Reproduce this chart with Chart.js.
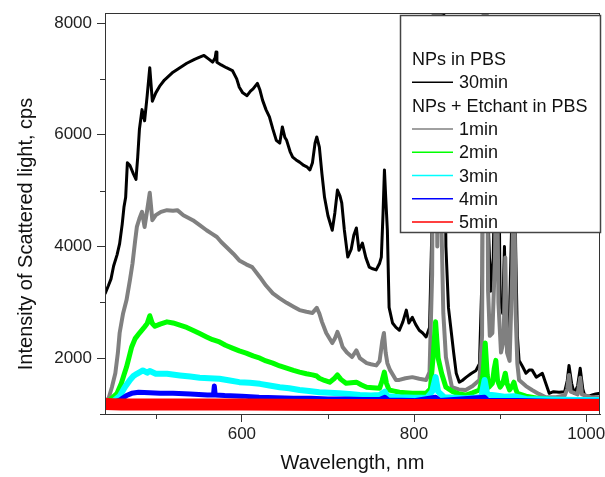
<!DOCTYPE html>
<html>
<head>
<meta charset="utf-8">
<script src="https://cdn.jsdelivr.net/npm/chart.js@4.4.1/dist/chart.umd.min.js"></script>
<style>
  html, body { margin: 0; padding: 0; background: #fff; }
  canvas { display: block; }
</style>
</head>
<body>
<canvas id="myChart" width="605" height="477"></canvas>
<script>
// values (wavelength nm / cps)
const wl30 = [441,445,448,451,455,458,461,463,465,467,470,474,477,479,481,484,487,490,493,496,500,505,510,515,520,528,536,545,551,556,562,566,569,570,571,576,582,589,594,597,601,606,610,613,618,621,624,628,632,636,640,644,647,650,652,656,659,663,667,672,676,679,682,685,687,690,693,696,700,705,708,711,714,716,719,723,727,730,733,736,740,744,748,752,756,760,762,764,765.6,767,769,771,775,779,783,787,791,794,798,802,806,810,814,818,821,823,826,828,831,834,837,840,843,846,849,852.6,856,860.7,866,872,876,879,881,884,886,889,892,895,898,900,903,905,907,910,914,916,918,920,922,926,930,934,937,942,946,949,953,957,962,968.5,975,978,980,983,986,990,993,996,998,1003,1007,1011,1016];
const cps30 = [3150,3300,3420,3650,3850,4050,4400,4700,4880,5500,5450,5300,5200,5600,6100,6450,6250,6700,7200,6600,6750,6880,6980,7050,7120,7200,7280,7350,7390,7420,7350,7300,7380,7480,7300,7250,7200,7150,7000,6850,6750,6700,6780,6820,6920,6800,6620,6450,6320,6100,5900,5850,6140,5950,5900,5700,5600,5550,5510,5450,5420,5370,5500,5850,5960,5780,5300,4880,4550,4290,4600,5010,4900,4780,4300,3810,3950,4200,4330,3930,4060,3800,3630,3600,3580,3700,3810,4600,5370,4900,4290,2910,2630,2550,2500,2650,2860,2630,2730,2600,2500,2450,2380,2550,4500,9000,9000,5500,9000,9000,4000,2900,2500,2100,1730,1570,1600,1660,1720,1780,1900,3500,9000,9000,4500,3200,3800,6500,6500,3000,2800,4000,2600,2200,4800,6500,4000,2400,1960,1850,1730,1790,1790,1660,1700,1730,1550,1370,1400,1390,1400,1600,1870,1550,1370,1500,1820,1450,1340,1320,1340,1360,1370];

const wl1 = [441,445,449,453,456,458,462,466,470,473,476,478,481,484,487,490,493,496,500,506,513,520,525,532,543,551,559,565,571,576,582,590,597,605,612,621,628,636,644,652,660,667,675,682,687,690,693,698,705,708,711,714,717,722,728,733,737,745,750,756,760,763,765,767,769,772,779,783,790,798,806,814,818,821,823,825,827,829,831,834,837,841,844,852,860,868,876,879,881,884,886,888,891,894,896,898,901,904,906,908,911,914,916,918,920,922,930,937,945,953,965,975,978,980,982,990,993,995,1005,1016];
const cps1 = [1250,1270,1480,1730,2100,2450,2800,3040,3400,3700,4100,4350,4500,4620,4350,4650,4960,4470,4560,4620,4650,4640,4650,4560,4470,4380,4290,4230,4170,4080,3990,3870,3750,3680,3630,3450,3300,3160,3070,2990,2920,2860,2830,2810,2900,2800,2650,2450,2270,2350,2470,2350,2200,2100,2020,2140,2000,1910,1890,1870,1950,2300,2450,2100,1910,1790,1610,1610,1640,1660,1630,1610,1750,3500,9000,9000,4000,9000,5000,2800,2020,1700,1480,1440,1430,1500,1610,2400,9000,9000,3200,2400,2450,3800,6000,3000,2100,2300,3800,2100,1950,3500,5500,2800,1900,1610,1500,1430,1360,1300,1300,1330,1450,1700,1400,1350,1650,1350,1300,1300];

const wl2 = [441,445,450,455,460,463,466,469,472,476,481,487,490,493,496,499,505,513,520,528,536,543,551,559,566,574,581,589,597,605,613,621,628,636,644,652,660,667,675,682,687,690,696,702,707,711,715,721,727,733,739,745,752,760,763,765.5,768,771,777,783,790,798,806,814,819,822,825,828,832,837,845,852,860,868,876,880,882.7,885,887,891,893,895,897,900,903,906,908,911,914,916,918,920,930,945,960,980,1000,1016];
const cps2 = [1200,1230,1300,1370,1550,1700,1840,2020,2200,2350,2450,2560,2620,2760,2620,2570,2610,2650,2630,2590,2550,2500,2440,2380,2330,2290,2230,2180,2130,2090,2040,2000,1950,1910,1860,1820,1780,1750,1720,1700,1680,1640,1600,1570,1630,1700,1620,1550,1560,1570,1520,1480,1470,1460,1600,1750,1550,1430,1410,1390,1380,1370,1370,1370,1450,2000,2650,2000,1730,1480,1400,1360,1340,1380,1430,1700,2270,1700,1480,1550,1800,1960,1600,1480,1550,1730,1550,1430,1500,1570,1450,1370,1320,1280,1260,1260,1250,1250];

const wl3 = [441,450,458,464,470,474,478,485,490,493,500,513,528,540,551,562,574,586,597,609,621,632,644,655,667,678,690,702,713,725,737,750,760,763,766,769,783,800,815,821,825,828,835,860,878,882,885,895,905,916,930,960,990,1016];
const cps3 = [1180,1220,1320,1480,1610,1680,1720,1780,1740,1770,1720,1720,1690,1670,1650,1640,1630,1600,1570,1560,1540,1510,1480,1460,1430,1410,1390,1380,1370,1360,1340,1330,1340,1370,1400,1320,1300,1290,1290,1400,1660,1400,1300,1280,1300,1610,1350,1330,1310,1320,1270,1260,1250,1250];

const wl4 = [441,450,458,466,472,480,493,505,520,540,560,567,568,569,580,600,620,640,660,680,700,720,740,760,766,770,800,825,830,882,886,920,960,1016];
const cps4 = [1180,1200,1250,1330,1370,1390,1380,1370,1370,1360,1340,1340,1500,1340,1330,1320,1300,1290,1280,1280,1270,1270,1260,1260,1300,1250,1240,1300,1240,1300,1240,1240,1230,1230];

const wl5 = [441,460,500,566,600,650,700,750,800,850,900,950,1016];
const cps5 = [1180,1170,1170,1170,1170,1165,1160,1160,1160,1160,1160,1160,1160];

const xTicks = [600, 800, 1000];
const xMinor = [500, 700, 900];
const yTicks = [2000, 4000, 6000, 8000];
const yMinor = [1000, 3000, 5000, 7000];

const FONT = '"Liberation Sans", Arial, sans-serif';

function pts(xs, ys) {
  return xs.map((x, i) => ({ x: x, y: ys[i] }));
}

function series(label, xs, ys, color, width, order) {
  return {
    label: label,
    data: pts(xs, ys),
    borderColor: color,
    borderWidth: width,
    pointRadius: 0,
    tension: 0,
    borderJoinStyle: 'round',
    clip: 0,
    order: order
  };
}

// legend rows: [text, colour or null for a heading]
const legendRows = [
  ['NPs in PBS', null],
  ['30min', '#000000'],
  ['NPs + Etchant in PBS', null],
  ['1min', '#808080'],
  ['2min', '#00ff00'],
  ['3min', '#00ffff'],
  ['4min', '#0000ff'],
  ['5min', '#ff0000']
];

const decor = {
  id: 'decor',
  afterDatasetsDraw(chart) {
    const ctx = chart.ctx;
    const a = chart.chartArea;
    const xs = chart.scales.x;
    const ys = chart.scales.y;
    ctx.save();
    ctx.strokeStyle = '#333';
    ctx.lineWidth = 1;
    // box round the plot
    ctx.strokeRect(Math.round(a.left) + 0.5, Math.round(a.top) + 0.5, Math.round(a.right - a.left) - 1, Math.round(a.bottom - a.top));
    // minor ticks
    ctx.beginPath();
    xMinor.forEach(v => {
      const px = Math.round(xs.getPixelForValue(v)) + 0.5;
      ctx.moveTo(px, a.bottom);
      ctx.lineTo(px, a.bottom + 5);
    });
    yMinor.forEach(v => {
      const py = Math.round(ys.getPixelForValue(v)) + 0.5;
      ctx.moveTo(a.left, py);
      ctx.lineTo(a.left - 5, py);
    });
    ctx.stroke();

    // legend box
    const lx = 400, ly = 15, lw = 200, lh = 217;
    ctx.fillStyle = '#fff';
    ctx.fillRect(lx, ly, lw, lh);
    ctx.strokeStyle = '#444';
    ctx.lineWidth = 1.5;
    ctx.strokeRect(lx + 0.5, ly + 0.5, lw, lh);
    ctx.font = '18px ' + FONT;
    ctx.textBaseline = 'alphabetic';
    ctx.textAlign = 'left';
    legendRows.forEach((r, i) => {
      const base = 65 + i * 23.3;
      ctx.fillStyle = '#111';
      if (r[1] === null) {
        ctx.fillText(r[0], 412, base);
      } else {
        ctx.strokeStyle = r[1];
        ctx.lineWidth = 1.5;
        ctx.beginPath();
        ctx.moveTo(412, base - 6);
        ctx.lineTo(453, base - 6);
        ctx.stroke();
        ctx.fillText(r[0], 459, base);
      }
    });

    // y axis title
    ctx.save();
    ctx.translate(26, 234);
    ctx.rotate(-Math.PI / 2);
    ctx.font = '20px ' + FONT;
    ctx.fillStyle = '#111';
    ctx.textAlign = 'center';
    ctx.textBaseline = 'middle';
    ctx.fillText('Intensity of Scattered light, cps', 0, 0);
    ctx.restore();
    ctx.restore();
  }
};

const ctx = document.getElementById('myChart');

const myChart = new Chart(ctx, {
  type: 'line',
  data: {
    datasets: [
      series('30min', wl30, cps30, '#000000', 3, 6),
      series('1min', wl1, cps1, '#808080', 4, 5),
      series('2min', wl2, cps2, '#00ff00', 5, 4),
      series('3min', wl3, cps3, '#00ffff', 6, 3),
      series('4min', wl4, cps4, '#0000ff', 5, 2),
      series('5min', wl5, cps5, '#ff0000', 12, 1)
    ]
  },
  options: {
    responsive: false,
    animation: false,
    events: [],
    layout: { padding: { top: 13, right: 5, left: 0, bottom: 0 } },
    plugins: {
      legend: { display: false },
      tooltip: { enabled: false }
    },
    scales: {
      x: {
        type: 'linear',
        min: 441,
        max: 1016,
        afterBuildTicks: s => { s.ticks = xTicks.map(v => ({ value: v })); },
        afterFit: s => { s.height = 63; s.paddingLeft = 0; s.paddingRight = 0; },
        grid: { drawOnChartArea: false, tickLength: 8, tickColor: '#333', tickWidth: 1 },
        border: { color: '#333', width: 1 },
        ticks: {
          maxRotation: 0,
          padding: 2,
          color: '#222',
          font: { family: FONT, size: 17 },
          callback: v => String(v)
        },
        title: {
          display: true,
          text: 'Wavelength, nm',
          color: '#111',
          padding: { top: 0, bottom: 2 },
          font: { family: FONT, size: 20 }
        }
      },
      y: {
        type: 'linear',
        min: 1000,
        max: 8180,
        afterBuildTicks: s => { s.ticks = yTicks.map(v => ({ value: v })); },
        afterFit: s => { s.width = 105; s.paddingTop = 0; s.paddingBottom = 0; },
        grid: { drawOnChartArea: false, tickLength: 8, tickColor: '#333', tickWidth: 1 },
        border: { color: '#333', width: 1 },
        ticks: {
          padding: 5,
          color: '#222',
          font: { family: FONT, size: 17 },
          callback: v => String(v)
        }
      }
    }
  },
  plugins: [decor]
});
</script>
</body>
</html>
